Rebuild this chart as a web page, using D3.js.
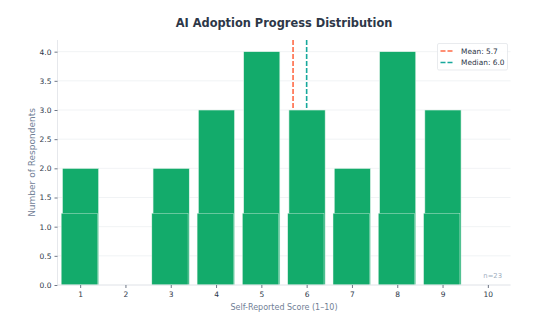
<!DOCTYPE html>
<html><head><meta charset="utf-8">
<script src="https://cdn.jsdelivr.net/npm/d3@7/dist/d3.min.js"></script>
<style>
html,body{margin:0;padding:0;background:#fff;}
svg{display:block;font-family:"DejaVu Sans",sans-serif;}
</style></head>
<body><svg id="chart" width="557" height="324"></svg>
<script>
const scores = [1, 2, 3, 4, 5, 6, 7, 8, 9, 10];
const counts = [2, 0, 2, 3, 4, 3, 2, 4, 3, 0];
const yTicks = [0, 0.5, 1.0, 1.5, 2.0, 2.5, 3.0, 3.5, 4.0];
const meanValue = 5.7;
const medianValue = 6.0;
const lowerBand = 1.23;
const sampleSize = 23;
const titleText = "AI Adoption Progress Distribution";
const xLabel = "Self-Reported Score (1–10)";
const yLabel = "Number of Respondents";

const svg = d3.select("#chart");
const m = {l: 57.5, r: 46.5, t: 40, b: 39};
const W = 557, H = 324;
const x = d3.scaleLinear().domain([0.5, 10.5]).range([m.l, W - m.r]);
const y = d3.scaleLinear().domain([0, 4.2]).range([H - m.b, m.t]);
const bw = x(0.9) - x(0.1);
const green = "#13ab6b";
const cx = (x(0.5) + x(10.5)) / 2;

// grid
svg.append("g").selectAll("line").data(yTicks).join("line")
  .attr("x1", x(0.5)).attr("x2", x(10.5))
  .attr("y1", d => y(d)).attr("y2", d => y(d))
  .attr("stroke", "#eef0f3").attr("stroke-width", 0.8);

// mean / median lines (behind bars)
const refs = [
  {v: meanValue, c: "#ff6b47", label: "Mean: " + meanValue.toFixed(1)},
  {v: medianValue, c: "#17a89c", label: "Median: " + medianValue.toFixed(1)}
];
svg.append("g").selectAll("line").data(refs).join("line")
  .attr("x1", d => x(d.v)).attr("x2", d => x(d.v))
  .attr("y1", y(4.2)).attr("y2", y(0))
  .attr("stroke", d => d.c).attr("stroke-width", 1.6)
  .attr("stroke-dasharray", "5,2");

const data = scores.map((s, i) => ({s, c: counts[i]})).filter(d => d.c > 0);
// upper bars
svg.append("g").selectAll("rect").data(data).join("rect")
  .attr("x", d => x(d.s) - bw / 2 + 0.4)
  .attr("width", bw)
  .attr("y", d => y(d.c))
  .attr("height", d => y(0) - y(d.c))
  .attr("fill", green).attr("stroke", "#e8f5ee").attr("stroke-width", 0.6);
// lower band
svg.append("g").selectAll("rect").data(data).join("rect")
  .attr("x", d => x(d.s) - bw / 2 - 0.8)
  .attr("width", bw)
  .attr("y", d => y(Math.min(d.c, lowerBand)))
  .attr("height", d => y(0) - y(Math.min(d.c, lowerBand)))
  .attr("fill", green).attr("stroke", "#e8f5ee").attr("stroke-width", 0.5).attr("stroke-opacity", 0.8);

// axes
const yAxis = d3.axisLeft(y).tickValues(yTicks).tickFormat(d3.format(".1f")).tickSize(3).tickPadding(3);
const gy = svg.append("g").attr("transform", `translate(${m.l},0)`).call(yAxis);
gy.select(".domain").attr("stroke", "#e6e8ec").attr("d", `M0,${y(4.2)}V${y(0)}`);
gy.selectAll(".tick line").attr("stroke", "#4a5568").attr("stroke-width", 0.8);
gy.selectAll(".tick text").attr("fill", "#2d3748").attr("font-size", "7.5px").attr("font-family", "DejaVu Sans");

const xAxis = d3.axisBottom(x).tickValues(scores).tickFormat(d3.format("d")).tickSize(3).tickPadding(4);
const gx = svg.append("g").attr("transform", `translate(0,${y(0)})`).call(xAxis);
gx.select(".domain").attr("stroke", "#e6e8ec").attr("d", `M${x(0.5)},0H${x(10.5)}`);
gx.selectAll(".tick line").attr("stroke", "#4a5568").attr("stroke-width", 0.8);
gx.selectAll(".tick text").attr("fill", "#2d3748").attr("font-size", "7.5px").attr("font-family", "DejaVu Sans");

// title
svg.append("text").attr("x", cx).attr("y", 27).attr("text-anchor", "middle")
  .attr("font-size", "11.4px").attr("font-weight", "bold").attr("fill", "#2d3748").text(titleText);
// axis labels
svg.append("text").attr("x", cx).attr("y", 309.5).attr("text-anchor", "middle")
  .attr("font-size", "8px").attr("fill", "#718096").text(xLabel);
svg.append("text").attr("transform", `translate(34.5,${(y(0) + y(4.2)) / 2}) rotate(-90)`)
  .attr("text-anchor", "middle").attr("font-size", "9px").attr("fill", "#718096").text(yLabel);

// n label
svg.append("text").attr("x", 502).attr("y", 278).attr("text-anchor", "end")
  .attr("font-size", "6.8px").attr("fill", "#a0aec0").text("n=" + sampleSize);

// legend
const lg = svg.append("g").attr("transform", "translate(437.5,43.5)");
lg.append("rect").attr("width", 70).attr("height", 26.5).attr("rx", 1.5)
  .attr("fill", "#fff").attr("fill-opacity", 0.9).attr("stroke", "#dfe2e6").attr("stroke-width", 0.7);
const items = lg.selectAll("g").data(refs).join("g")
  .attr("transform", (d, i) => `translate(0,${7.5 + i * 11.5})`);
items.append("line").attr("x1", 3).attr("x2", 17).attr("y1", 0).attr("y2", 0)
  .attr("stroke", d => d.c).attr("stroke-width", 1.4).attr("stroke-dasharray", "5,2");
items.append("text").attr("x", 23.5).attr("y", 2.7).attr("font-size", "7.4px").attr("fill", "#2d3748")
  .text(d => d.label);
</script></body></html>
